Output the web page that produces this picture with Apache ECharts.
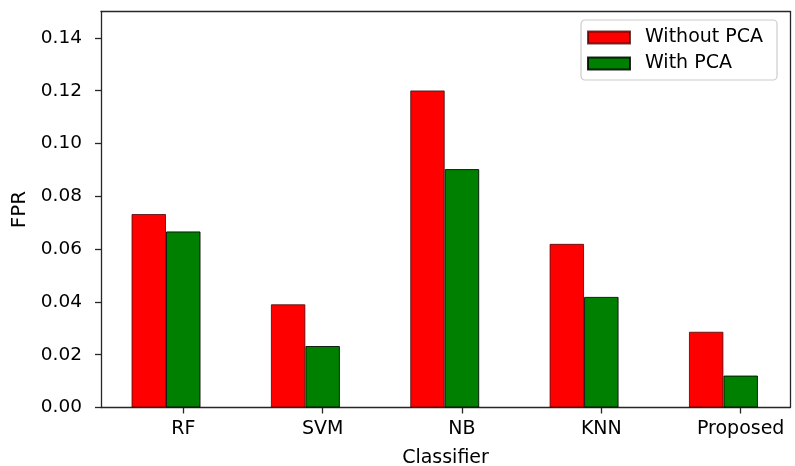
<!DOCTYPE html>
<html>
<head>
<meta charset="utf-8">
<script src="https://cdn.jsdelivr.net/npm/echarts@6/dist/echarts.min.js"></script>
<style>
  html, body { margin: 0; padding: 0; background: #fff; }
  #chart { width: 795px; height: 466px; }
</style>
</head>
<body>
<div id="chart"></div>
<script>
// False positive rate per classifier, with and without PCA
const classifiers = ['RF', 'SVM', 'NB', 'KNN', 'Proposed'];
const withoutPCA = [0.0733, 0.0391, 0.1201, 0.0620, 0.0287];
const withPCA = [0.0667, 0.0233, 0.0903, 0.0419, 0.0121];
const yTicks = [0, 0.02, 0.04, 0.06, 0.08, 0.10, 0.12, 0.14];
const yMax = 0.15;

const FONT = 'DejaVu Sans';
const frameLine = { show: true, onZero: false, lineStyle: { color: '#262626', width: 1.3 } };
const plotTop = 11.5, plotBottom = 58.5;

const chart = echarts.init(document.getElementById('chart'), null, { renderer: 'canvas' });

chart.setOption({
  animation: false,
  backgroundColor: '#ffffff',
  textStyle: { fontFamily: FONT, color: '#000' },
  grid: [
    // frame of the plot area
    { left: 101, right: 5, top: plotTop, bottom: plotBottom, containLabel: false, outerBoundsMode: 'none' },
    // bar area: bands sized so each tick sits under the "With PCA" bar
    { left: 113.6, width: 696.75, top: plotTop, bottom: plotBottom, containLabel: false, outerBoundsMode: 'none' }
  ],
  xAxis: [
    {
      gridIndex: 0, type: 'value', min: 0, max: 1, position: 'bottom',
      axisLine: frameLine, axisTick: { show: false }, axisLabel: { show: false },
      splitLine: { show: false },
      name: 'Classifier', nameLocation: 'middle', nameGap: 41,
      nameTextStyle: { fontFamily: FONT, fontSize: 19, color: '#000', verticalAlign: 'top' }
    },
    {
      gridIndex: 0, type: 'value', min: 0, max: 1, position: 'top',
      axisLine: frameLine, axisTick: { show: false }, axisLabel: { show: false },
      splitLine: { show: false }
    },
    {
      gridIndex: 1, type: 'category', data: classifiers, position: 'bottom',
      axisLine: { show: false, onZero: false },
      axisTick: { show: true, alignWithLabel: true, length: 6, lineStyle: { color: '#262626', width: 1.3 } },
      axisLabel: { fontFamily: FONT, fontSize: 19, color: '#000', margin: 12 },
      splitLine: { show: false }
    }
  ],
  yAxis: [
    {
      gridIndex: 0, type: 'value', min: 0, max: yMax, position: 'left',
      axisLine: frameLine,
      axisTick: { show: true, length: 6, customValues: yTicks, lineStyle: { color: '#262626', width: 1.3 } },
      axisLabel: {
        fontFamily: FONT, fontSize: 18.5, color: '#000', margin: 19,
        customValues: yTicks,
        formatter: v => v.toFixed(2)
      },
      splitLine: { show: false },
      name: 'FPR', nameLocation: 'middle', nameGap: 70, nameRotate: 90,
      nameTextStyle: { fontFamily: FONT, fontSize: 20, color: '#000' }
    },
    {
      gridIndex: 0, type: 'value', min: 0, max: yMax, position: 'right',
      axisLine: frameLine, axisTick: { show: false }, axisLabel: { show: false },
      splitLine: { show: false }
    },
    {
      gridIndex: 1, type: 'value', min: 0, max: yMax, show: false
    }
  ],
  legend: {
    data: ['Without PCA', 'With PCA'],
    orient: 'vertical',
    left: 581, top: 20,
    padding: [8, 14, 7, 6],
    icon: 'rect',
    itemWidth: 42, itemHeight: 12, itemGap: 7,
    backgroundColor: '#fff',
    borderColor: '#cccccc', borderWidth: 1.2, borderRadius: 4,
    textStyle: { fontFamily: FONT, fontSize: 19, color: '#000', padding: [0, 0, 0, 10] }
  },
  series: [
    {
      name: 'Without PCA', type: 'bar', xAxisIndex: 2, yAxisIndex: 2,
      data: withoutPCA, barWidth: 34.5, barGap: '0%',
      itemStyle: { color: '#ff0000', borderColor: 'rgba(60,0,0,0.75)', borderWidth: 1 }
    },
    {
      name: 'With PCA', type: 'bar', xAxisIndex: 2, yAxisIndex: 2,
      data: withPCA, barWidth: 34.5, barGap: '0%',
      itemStyle: { color: '#008000', borderColor: 'rgba(0,0,0,0.85)', borderWidth: 1 }
    },
    {
      // empty slot to the right of each pair, keeps the tick under the second bar
      name: 'spacer', type: 'bar', xAxisIndex: 2, yAxisIndex: 2,
      data: classifiers.map(() => '-'), barWidth: 34.5, barGap: '0%',
      silent: true, itemStyle: { color: 'transparent' }
    }
  ]
});
</script>
</body>
</html>
